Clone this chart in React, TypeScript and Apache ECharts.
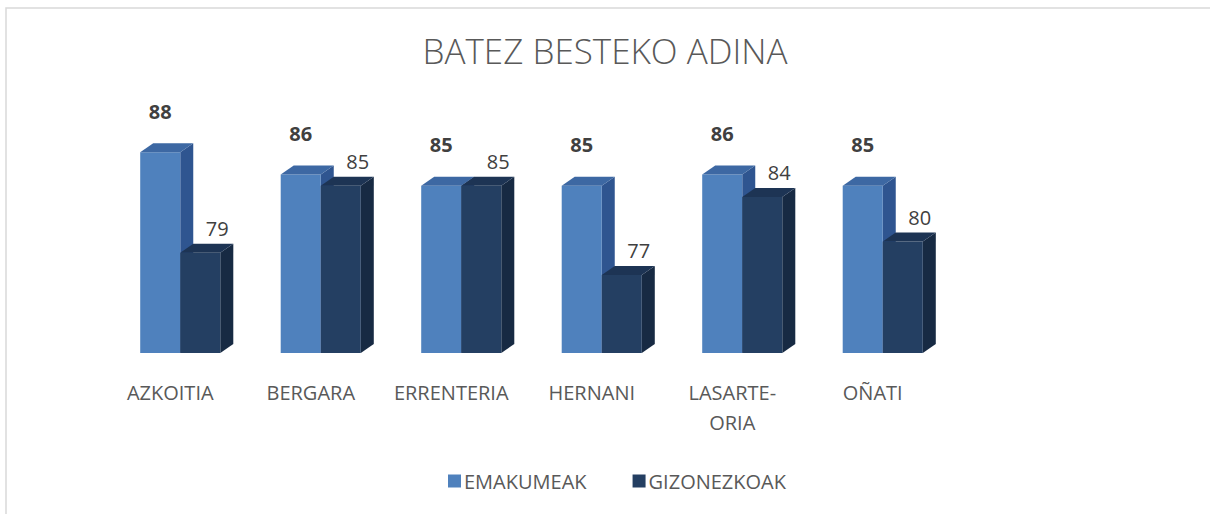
import React, { useEffect, useRef } from "react";
import * as echarts from "echarts";

const categories = ["AZKOITIA", "BERGARA", "ERRENTERIA", "HERNANI", "LASARTE-\nORIA", "OÑATI"];
const emakumeak = [88, 86, 85, 85, 86, 85];
const gizonezkoak = [79, 85, 85, 77, 84, 80];
const seriesNames = ["EMAKUMEAK", "GIZONEZKOAK"];

const Y_MIN = 70;
const Y_MAX = 90;

const FONT = "'Open Sans', 'DejaVu Sans', sans-serif";

const palette = [
  { front: "#4f81bd", top: "#3d68a3", side: "#2f5590", label: "#404040", weight: "bold" as const },
  { front: "#243f62", top: "#1d3454", side: "#172a43", label: "#404040", weight: "normal" as const },
];

export default function App() {
  const ref = useRef<HTMLDivElement>(null);

  useEffect(() => {
    if (!ref.current) return;
    const chart = echarts.init(ref.current, undefined, { renderer: "svg" });

    const renderItem = (params: any, api: any) => {
      const idx = api.value(0);
      const val = api.value(1);
      const topPt = api.coord([idx, val]);
      const basePt = api.coord([idx, Y_MIN]);
      const band = api.size([1, 0])[0];
      const w = band * 0.285;
      const dx = 13;
      const dy = 9;
      const s = params.seriesIndex;
      const c = palette[s];
      const x0 = s === 0 ? topPt[0] - w : topPt[0];
      const yT = topPt[1];
      const yB = basePt[1];
      const children: any[] = [
        {
          type: "polygon",
          shape: {
            points: [
              [x0 + w, yT],
              [x0 + w + dx, yT - dy],
              [x0 + w + dx, yB - dy],
              [x0 + w, yB],
            ],
          },
          style: { fill: c.side },
        },
        {
          type: "rect",
          shape: { x: x0, y: yT, width: w, height: yB - yT },
          style: { fill: c.front },
        },
        {
          type: "polygon",
          shape: {
            points: [
              [x0, yT],
              [x0 + dx, yT - dy],
              [x0 + w + dx, yT - dy],
              [x0 + w, yT],
            ],
          },
          style: { fill: c.top },
        },
        {
          type: "text",
          x: s === 0 ? x0 + w / 2 : x0 + w / 2 + 17,
          y: s === 0 ? yT - 41 : yT - 24,
          style: {
            text: String(val),
            fill: c.label,
            fontSize: 20,
            fontWeight: c.weight,
            fontFamily: FONT,
            align: "center",
            verticalAlign: "middle",
          },
        },
      ];
      return { type: "group", children };
    };

    const option: any = {
      animation: false,
      backgroundColor: "#ffffff",
      title: {
        text: "BATEZ BESTEKO ADINA",
        left: "center",
        top: 23,
        textStyle: {
          fontFamily: FONT,
          fontSize: 35,
          fontWeight: 300,
          lineHeight: 44,
          color: "#595959",
        },
      },
      legend: {
        left: 443,
        top: 463,
        itemWidth: 13,
        itemHeight: 13,
        itemGap: 46,
        icon: "rect",
        data: [
          { name: seriesNames[0], itemStyle: { color: palette[0].front } },
          { name: seriesNames[1], itemStyle: { color: palette[1].front } },
        ],
        textStyle: { fontFamily: FONT, fontSize: 20, color: "#595959", lineHeight: 26, padding: [0, 0, 0, -2] },
      },
      graphic: [
        {
          type: "rect",
          shape: { x: 6, y: 8, width: 1240, height: 540 },
          style: { fill: "none", stroke: "#d9d9d9", lineWidth: 1.5 },
          silent: true,
        },
      ],
      grid: { left: 110, right: 257, top: 130, bottom: 161 },
      xAxis: {
        type: "category",
        data: categories,
        axisLine: { show: false },
        axisTick: { show: false },
        axisLabel: {
          color: "#595959",
          fontFamily: FONT,
          fontSize: 20,
          lineHeight: 30,
          margin: 24,
          padding: [0, 20, 0, 0],
          interval: 0,
        },
      },
      yAxis: {
        type: "value",
        min: Y_MIN,
        max: Y_MAX,
        show: false,
        splitLine: { show: false },
      },
      series: [
        {
          type: "custom",
          name: seriesNames[0],
          renderItem,
          encode: { x: 0, y: 1 },
          itemStyle: { color: palette[0].front },
          data: emakumeak.map((v, i) => [i, v]),
        },
        {
          type: "custom",
          name: seriesNames[1],
          renderItem,
          encode: { x: 0, y: 1 },
          itemStyle: { color: palette[1].front },
          data: gizonezkoak.map((v, i) => [i, v]),
        },
      ],
    };

    chart.setOption(option);
    return () => chart.dispose();
  }, []);

  return (
    <div
      ref={ref}
      style={{ position: "fixed", left: 0, top: 0, width: 1210, height: 514, background: "#fff" }}
    />
  );
}
